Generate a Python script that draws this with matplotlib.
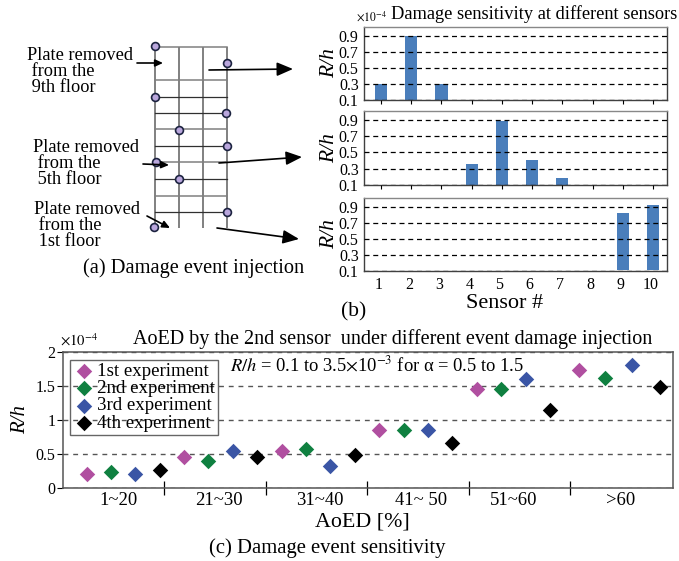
import numpy as np
import matplotlib
matplotlib.use("Agg")
import matplotlib.pyplot as plt

plt.rcParams['font.family'] = ['Liberation Serif', 'DejaVu Serif']
plt.rcParams['mathtext.fontset'] = 'stix'

W, H = 679, 561

# panel (b) data
sensors = list(range(1, 11))
bar_ticks = [0.1, 0.3, 0.5, 0.7, 0.9]
floor9_vals = [0.30, 0.90, 0.30, 0, 0, 0, 0, 0, 0, 0]
floor5_vals = [0, 0, 0, 0.36, 0.89, 0.405, 0.18, 0, 0, 0]
floor1_vals = [0, 0, 0, 0, 0, 0, 0, 0, 0.82, 0.92]

# panel (c) data, one value per group
groups = ['1~20', '21~30', '31~40', '41~ 50', '51~60', '>60']
exp_names = ['1st experiment', '2nd experiment', '3rd experiment', '4th experiment']
exp_colors = ['#b04fa0', '#0f8040', '#3a55a5', '#000000']
exp1 = [0.20, 0.45, 0.55, 0.86, 1.45, 1.74]
exp2 = [0.235, 0.39, 0.57, 0.86, 1.45, 1.62]
exp3 = [0.20, 0.54, 0.32, 0.86, 1.60, 1.81]
exp4 = [0.27, 0.45, 0.48, 0.66, 1.15, 1.49]

# schematic of the structure in panel (a), pixel coordinates
col_x = [155, 179, 203, 227]
floor_y_grey = [47, 80, 129, 196]
floor_y_dark = [97, 113, 146, 179, 212]
sensor_xy = [(155, 46), (227, 63), (155, 97), (226, 113), (179, 130),
             (227, 146), (156, 162), (179, 179), (227, 212), (154, 227)]


def make_axes(fig, left, top, right, bottom):
    return fig.add_axes([left / W, 1 - bottom / H, (right - left) / W, (bottom - top) / H])


fig = plt.figure(figsize=(W / 100, H / 100), dpi=100)

# overlay in pixel coordinates for the schematic and loose text
bg = fig.add_axes([0, 0, 1, 1])
bg.set_xlim(0, W)
bg.set_ylim(H, 0)
bg.axis('off')
bg.set_zorder(10)

for x in col_x:
    bg.plot([x, x], [47, 228], color='#808080', lw=1.4, solid_capstyle='butt')
for y in floor_y_grey:
    bg.plot([155, 227], [y, y], color='#808080', lw=1.1)
for y in floor_y_dark:
    bg.plot([155, 227], [y, y], color='#303030', lw=0.9)
bg.plot([155, 227], [162, 162], color='#808080', lw=1.1)
sx, sy = zip(*sensor_xy)
bg.scatter(sx, sy, s=32, c='#b9a6dc', edgecolors='#1c2340', linewidths=1.2, zorder=5)


def arrow(x0, y0, x1, y1, big=False):
    style = '-|>,head_width=0.32,head_length=0.75' if big else '-|>,head_width=0.16,head_length=0.35'
    bg.annotate('', xy=(x1, y1), xytext=(x0, y0),
                arrowprops=dict(arrowstyle=style, color='black', lw=1.2,
                                shrinkA=0, shrinkB=0, mutation_scale=13), zorder=6)


arrow(137, 63, 163, 63)
arrow(143, 164, 169, 165)
arrow(147, 216, 170, 228)
arrow(209, 70, 293, 69, big=True)
arrow(219, 163, 302, 157, big=True)
arrow(217, 228, 299, 239, big=True)

for x, y, lines in [(27, 55, ['Plate removed', ' from the', ' 9th floor']),
                    (33, 147, ['Plate removed', ' from the', ' 5th floor']),
                    (34, 209, ['Plate removed', ' from the', ' 1st floor'])]:
    for i, line in enumerate(lines):
        bg.text(x, y + i * 16, line, fontsize=13.2, ha='left', va='center')

bg.text(83, 268, '(a) Damage event injection', fontsize=14.7, ha='left', va='center')
bg.text(341, 312, '(b)', fontsize=15.5, ha='left', va='center')
bg.text(209, 548, '(c) Damage event sensitivity', fontsize=14.9, ha='left', va='center')
bg.text(391, 14, 'Damage sensitivity at different sensors', fontsize=13.2, ha='left', va='center')
bg.text(356, 17, r'$\times 10^{-4}$', fontsize=8.5, ha='left', va='center')
bg.text(133, 339, 'AoED by the 2nd sensor  under different event damage injection', fontsize=14.5,
        ha='left', va='center')
bg.text(60, 340, r'$\times 10^{-4}$', fontsize=10.5, ha='left', va='center')
bg.text(230, 365, r'$R/h$ = 0.1 to 3.5$\times$10$^{-3}$ for α = 0.5 to 1.5', fontsize=13.3,
        ha='left', va='center')
bg.text(362, 522, 'AoED [%]', fontsize=15.8, ha='center', va='center')
bg.text(505, 303, 'Sensor #', fontsize=16, ha='center', va='center')

# panel (b)
panel_boxes = [(26.7, 100.3), (111, 184.7), (197.7, 271.3)]
panel_vals = [floor9_vals, floor5_vals, floor1_vals]
panel_base = [0.09, 0.1, 0.12]
for (top, bottom), vals, base in zip(panel_boxes, panel_vals, panel_base):
    ax = make_axes(fig, 364.3, top, 666.7, bottom)
    ax.set_xlim(0.447, 10.45)
    ax.set_ylim(0.1, 1.01)
    ax.grid(axis='y', color='black', ls=(0, (4, 3)), lw=0.9)
    ax.set_axisbelow(False)
    heights = [v - base if v > 0 else 0 for v in vals]
    ax.bar(sensors, heights, bottom=base, width=0.4, color='#4a7ebb', zorder=1, clip_on=False)
    ax.set_yticks(bar_ticks)
    ax.set_yticklabels(['%.1f' % t for t in bar_ticks], fontsize=11.5)
    ax.set_xticks(sensors)
    ax.tick_params(axis='y', length=0, pad=4)
    ax.tick_params(axis='x', length=3, width=0.8, labelbottom=False)
    for side in ax.spines.values():
        side.set_color('#404040')
        side.set_linewidth(1.0)
    ax.spines['top'].set_color('#888888')
    ax.set_ylabel('R/h', fontsize=15.5, style='italic', labelpad=0)
# bottom panel: labels sit a little left of the bars, no tick marks
ax.tick_params(axis='x', labelbottom=True, labelsize=11.5, pad=4, length=0)
ax.set_xticks([s - 0.08 for s in sensors])
ax.set_xticklabels([str(s) for s in sensors])

# panel (c)
ax = make_axes(fig, 62.5, 352, 673, 488)
ax.set_xlim(-0.984, 24.04)
ax.set_ylim(0, 2)
idx = np.arange(24, dtype=float)
idx[20:] = [20.18, 21.25, 22.35, 23.5]
group_vals = np.array([exp1, exp2, exp3, exp4])
ax.grid(axis='y', color='#555555', ls=(0, (3.5, 3.5)), lw=1.0)
ax.set_axisbelow(True)
for i, (name, color) in enumerate(zip(exp_names, exp_colors)):
    ax.scatter(idx[i::4], group_vals[i], marker='D', s=62, color=color, label=name,
               zorder=3, linewidths=0)
ax.set_yticks([0, 0.5, 1, 1.5, 2])
ax.set_yticklabels(['0', '0.5', '1', '1.5', '2'], fontsize=11.5)
ax.tick_params(axis='y', length=4, width=0.8, pad=1)
ax.set_xticks([3.176, 7.34, 11.5, 15.66, 19.82])
ax.set_xticklabels([])
ax.tick_params(axis='x', which='major', length=10, width=0.9, direction='inout')
ax.set_xticks([1.29, 5.43, 9.57, 13.7, 17.5, 21.9], minor=True)
ax.set_xticklabels(groups, minor=True, fontsize=13.4)
ax.tick_params(axis='x', which='minor', length=0, pad=3)
for side in ax.spines.values():
    side.set_color('#555555')
    side.set_linewidth(1.1)
ax.set_ylabel('R/h', fontsize=15, style='italic', labelpad=4)
leg = ax.legend(loc='upper left', bbox_to_anchor=((70 - 62.5) / 610.5, 1 - (360 - 352) / 136),
                fontsize=13.6, fancybox=False, facecolor='none', edgecolor='#404040',
                framealpha=None, borderaxespad=0, borderpad=0.15, labelspacing=0.0,
                handletextpad=0.1, handlelength=1.2, scatterpoints=1)
leg.get_frame().set_linewidth(1.0)

fig.savefig('out.png', dpi=100)
